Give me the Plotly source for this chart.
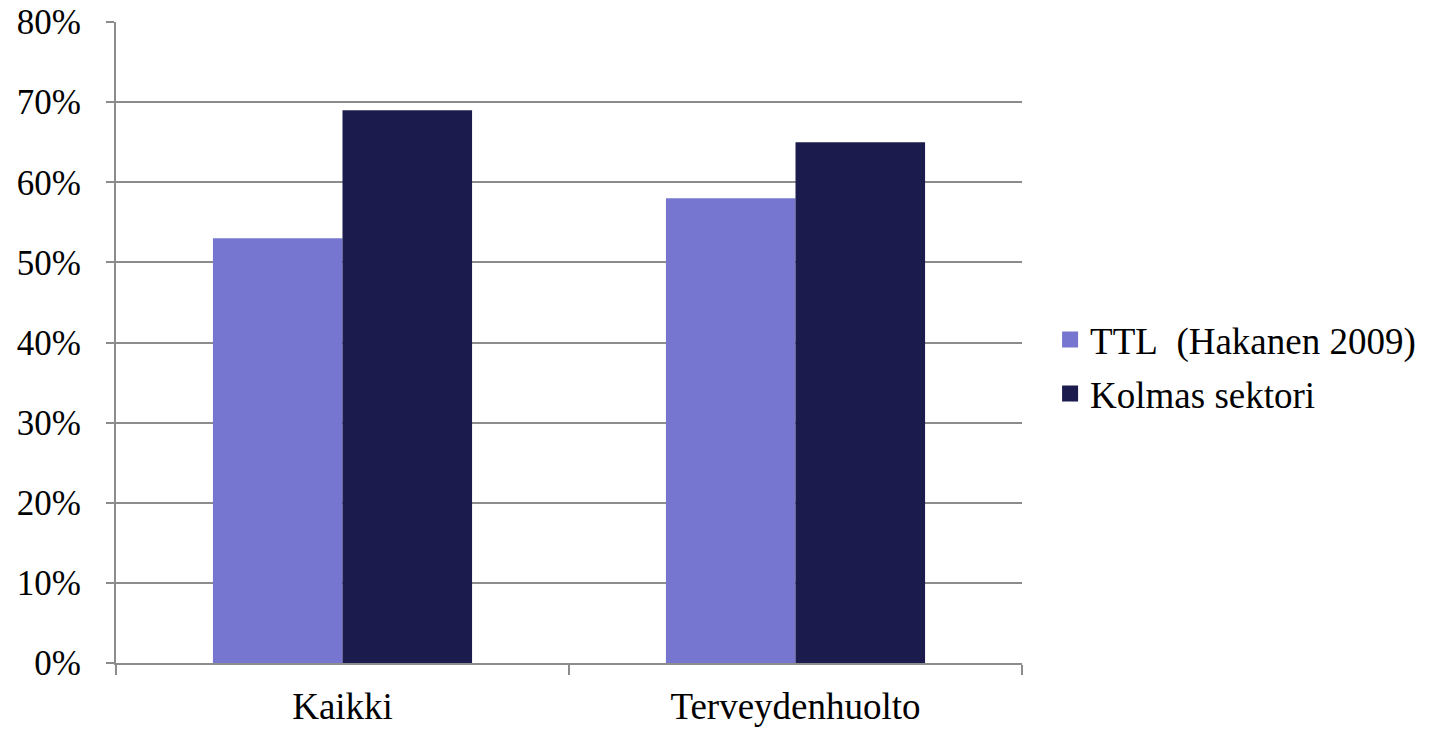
import plotly.graph_objects as go

categories = ["Kaikki", "Terveydenhuolto"]
series_names = ["TTL\u00a0 (Hakanen 2009)", "Kolmas sektori"]
ttl_values = [0.53, 0.58]
kolmas_values = [0.69, 0.65]
y_ticks = [0, 0.1, 0.2, 0.3, 0.4, 0.5, 0.6, 0.7, 0.8]
y_tick_labels = ["0%", "10%", "20%", "30%", "40%", "50%", "60%", "70%", "80%"]

colors = ["#7676D0", "#1B1B4D"]
font_family = "Liberation Serif"
grid_color = "#8C8C8C"

fig = go.Figure()
for i, (name, vals, col) in enumerate(zip(series_names, [ttl_values, kolmas_values], colors)):
    group = "g%d" % i
    fig.add_trace(go.Bar(x=categories, y=vals, name=name, marker_color=col,
                         marker_line_width=0, showlegend=False, legendgroup=group))
    # legend entry with a larger square swatch
    fig.add_trace(go.Scatter(x=[None], y=[None], mode="markers", name=name,
                             legendgroup=group,
                             marker=dict(symbol="square", size=18, color=col)))

fig.update_layout(
    width=1433, height=729,
    margin=dict(l=116, r=411, t=22, b=66, autoexpand=False),
    paper_bgcolor="white", plot_bgcolor="white",
    barmode="group", bargap=0.428, bargroupgap=0,
    font=dict(family=font_family, size=37, color="black"),
    legend=dict(x=1.031, xanchor="left", y=0.462, yanchor="middle",
                font=dict(family=font_family, size=37), itemwidth=30,
                tracegroupgap=3),
)
fig.update_xaxes(showline=True, linecolor=grid_color, linewidth=2,
                 ticks="outside", tickson="boundaries", ticklen=10,
                 tickcolor=grid_color, tickwidth=2, showgrid=False,
                 automargin=False, ticklabelstandoff=10,
                 tickfont=dict(family=font_family, size=37))
fig.update_yaxes(range=[0, 0.8], tickvals=y_ticks, ticktext=y_tick_labels,
                 showgrid=True, gridcolor=grid_color, gridwidth=1.5,
                 showline=True, linecolor=grid_color, linewidth=2,
                 ticks="outside", ticklen=8, tickcolor=grid_color, tickwidth=2,
                 zeroline=False, automargin=False, ticklabelstandoff=18,
                 tickfont=dict(family=font_family, size=35))

fig.write_html("out.html")
